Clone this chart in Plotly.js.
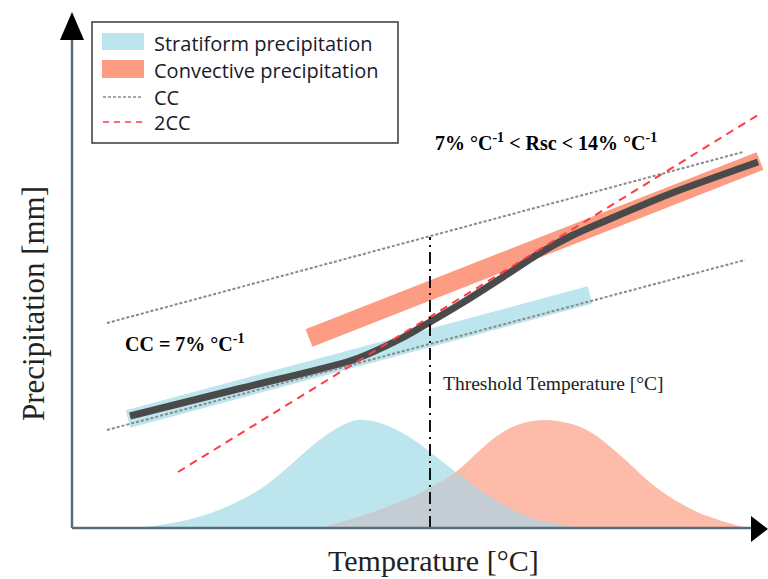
<!DOCTYPE html>
<html>
<head>
<meta charset="utf-8">
<script src="https://cdn.plot.ly/plotly-3.0.1.min.js"></script>
<style>
  html, body { margin: 0; padding: 0; background: #ffffff; }
  #chart { width: 768px; height: 579px; }
</style>
</head>
<body>
<div id="chart"></div>
<script>
// ---- Data (conceptual units) ----
// Distribution of stratiform precipitation vs temperature
const stratDistX = [68, 100, 130, 161, 190, 215, 240, 262, 285, 305, 325, 345, 358, 385, 405, 425, 445, 465, 490, 511];
const stratDistY = [0, 5, 12, 24, 40, 60, 82, 98, 108, 106, 98, 86, 76, 55, 40, 27, 16, 8, 3, 0];
// Distribution of convective precipitation vs temperature
const convDistX = [248, 280, 310, 340, 365, 385, 405, 425, 445, 471, 500, 520, 541, 560, 575, 592, 608, 625, 641, 660, 675];
const convDistY = [0, 9, 19, 31, 44, 57, 75, 92, 103, 108, 104, 95, 79, 62, 48, 35, 25, 16, 10, 4, 0];
// Region shared by both distributions
const overlapX = [248, 280, 310, 340, 365, 378, 386, 395, 405, 425, 445, 465, 490, 511];
const overlapY = [0, 9, 19, 31, 44, 51, 55, 48, 40, 27, 16, 8, 3, 0];

// Scaling bands
const stratBandX = [56, 518];
const stratBandY = [109, 233];
const convBandX = [237, 688];
const convBandY = [190, 367];

// Observed precipitation–temperature scaling curve
const scalingX = [58, 170, 281, 330, 358, 395, 431, 468, 501, 540, 600, 686];
const scalingY = [112, 140, 168, 190, 206, 228, 251, 275, 293, 310, 335, 366];

// Clausius–Clapeyron reference lines
const ccUpperX = [35, 671];
const ccUpperY = [205, 376];
const ccLowerX = [35, 673];
const ccLowerY = [98, 268];
const cc2X = [106, 686];
const cc2Y = [56, 413];

// Threshold temperature
const thresholdX = [358, 358];
const thresholdY = [0, 291];

// Legend labels
const legendLabels = ["Stratiform precipitation", "Convective precipitation", "CC", "2CC"];

// ---- Styles ----
const BLUE = "#bde5ee";
const ORANGE_FILL = "#fdbba9";
const OVERLAP = "#c4cdd3";
const BAND_ORANGE = "#fc9c82";
const DARK = "#4a4a4a";
const GREY_DOT = "#8a8a8a";
const RED = "#ff3b45";
const SERIF = "Liberation Serif, Times New Roman, serif";
const SANS = "Open Sans, Noto Sans, sans-serif";

const traces = [
  { x: stratDistX, y: stratDistY, type: "scatter", mode: "lines", fill: "tozeroy",
    fillcolor: BLUE, line: { width: 0, shape: "spline", smoothing: 1, color: BLUE },
    hoverinfo: "skip", showlegend: false },
  { x: convDistX, y: convDistY, type: "scatter", mode: "lines", fill: "tozeroy",
    fillcolor: ORANGE_FILL, line: { width: 0, shape: "spline", smoothing: 1, color: ORANGE_FILL },
    hoverinfo: "skip", showlegend: false },
  { x: overlapX, y: overlapY, type: "scatter", mode: "lines", fill: "tozeroy",
    fillcolor: OVERLAP, line: { width: 0, shape: "linear", color: OVERLAP },
    hoverinfo: "skip", showlegend: false },
  { x: stratBandX, y: stratBandY, type: "scatter", mode: "lines",
    line: { width: 18, color: BLUE }, hoverinfo: "skip", showlegend: false },
  { x: convBandX, y: convBandY, type: "scatter", mode: "lines",
    line: { width: 19, color: BAND_ORANGE }, hoverinfo: "skip", showlegend: false },
  { x: scalingX, y: scalingY, type: "scatter", mode: "lines",
    line: { width: 7, color: DARK, shape: "spline", smoothing: 0.7 }, hoverinfo: "skip", showlegend: false },
  { x: ccUpperX, y: ccUpperY, type: "scatter", mode: "lines",
    line: { width: 2, color: GREY_DOT, dash: "3px,2px" }, hoverinfo: "skip", showlegend: false },
  { x: ccLowerX, y: ccLowerY, type: "scatter", mode: "lines",
    line: { width: 2, color: GREY_DOT, dash: "3px,2px" }, hoverinfo: "skip", showlegend: false },
  { x: cc2X, y: cc2Y, type: "scatter", mode: "lines",
    line: { width: 2, color: RED, dash: "8px,6px" }, hoverinfo: "skip", showlegend: false },
  { x: thresholdX, y: thresholdY, type: "scatter", mode: "lines",
    line: { width: 2, color: "#111111", dash: "12px,5px,2px,5px" }, hoverinfo: "skip", showlegend: false }
];

const shapes = [
  // axes lines
  { type: "line", xref: "x", yref: "y", x0: 0, y0: 0, x1: 0, y1: 492, line: { color: "#5b6b7b", width: 2.5 }, layer: "above" },
  { type: "line", xref: "x", yref: "y", x0: 0, y0: 0, x1: 682, y1: 0, line: { color: "#5b6b7b", width: 2.5 }, layer: "above" },
  // arrowheads
  { type: "path", xref: "x", yref: "y", path: "M -12 488 L 12 488 L 0 516 Z", fillcolor: "#000000", line: { width: 0 }, layer: "above" },
  { type: "path", xref: "x", yref: "y", path: "M 679 12 L 679 -14 L 696 -1 Z", fillcolor: "#000000", line: { width: 0 }, layer: "above" },
  // legend box
  { type: "rect", xref: "x", yref: "y", x0: 20, x1: 326, y0: 385, y1: 506, fillcolor: "rgba(255,255,255,0)", line: { color: "#3a3a3a", width: 1.5 }, layer: "above" },
  // legend swatches
  { type: "rect", xref: "x", yref: "y", x0: 30, x1: 72, y0: 478, y1: 495, fillcolor: BLUE, line: { width: 0 }, layer: "above" },
  { type: "rect", xref: "x", yref: "y", x0: 30, x1: 72, y0: 450, y1: 468, fillcolor: BAND_ORANGE, line: { width: 0 }, layer: "above" },
  { type: "line", xref: "x", yref: "y", x0: 31, x1: 71, y0: 431, y1: 431, line: { color: GREY_DOT, width: 1.5, dash: "3px,2px" }, layer: "above" },
  { type: "line", xref: "x", yref: "y", x0: 31, x1: 71, y0: 406, y1: 406, line: { color: RED, width: 1.5, dash: "6px,5px" }, layer: "above" }
];

const legendY = [485, 458, 431, 406];
const annotations = legendLabels.map((t, i) => ({
  x: 80, y: legendY[i], xref: "x", yref: "y", text: t, showarrow: false,
  xanchor: "left", yanchor: "middle", font: { family: SANS, size: 20, color: "#1a1a2a" }
}));

annotations.push(
  { x: 112, y: 185, xref: "x", yref: "y", showarrow: false, xanchor: "center", yanchor: "middle",
    text: "<b>CC = 7% °C<sup>-1</sup></b>", font: { family: SERIF, size: 20, color: "#000" } },
  { x: 474, y: 386, xref: "x", yref: "y", showarrow: false, xanchor: "center", yanchor: "middle",
    text: "<b>7% °C<sup>-1</sup> &lt; Rsc &lt; 14% °C<sup>-1</sup></b>", font: { family: SERIF, size: 20, color: "#000" } },
  { x: 369, y: 145, xref: "x", yref: "y", showarrow: false, xanchor: "left", yanchor: "middle",
    text: "Threshold Temperature [°C]", font: { family: SERIF, size: 19.5, color: "#222" } },
  { x: 361, y: -32, xref: "x", yref: "y", showarrow: false, xanchor: "center", yanchor: "middle",
    text: "Temperature [°C]", font: { family: SERIF, size: 30, color: "#222" } },
  { x: -39, y: 224, xref: "x", yref: "y", showarrow: false, xanchor: "center", yanchor: "middle",
    textangle: -90, text: "Precipitation [mm]", font: { family: SERIF, size: 31, color: "#222" } }
);

const layout = {
  width: 768, height: 579,
  margin: { l: 0, r: 0, t: 0, b: 0, pad: 0 },
  paper_bgcolor: "#ffffff", plot_bgcolor: "#ffffff",
  showlegend: false,
  xaxis: { range: [-72, 696], visible: false, fixedrange: true },
  yaxis: { range: [-51, 528], visible: false, fixedrange: true },
  shapes: shapes,
  annotations: annotations
};

Plotly.newPlot("chart", traces, layout, { staticPlot: true, displayModeBar: false });
</script>
</body>
</html>
